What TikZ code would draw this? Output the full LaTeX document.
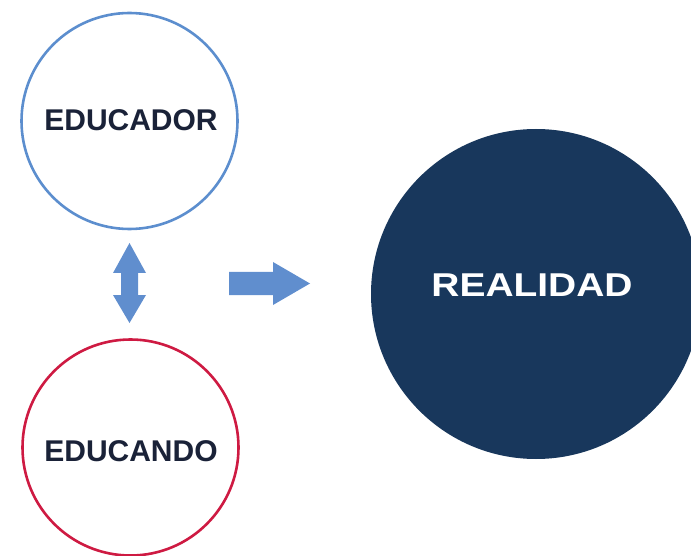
\documentclass[tikz,border=0pt]{standalone}
\usepackage{fontspec}
\setmainfont{Liberation Sans}
\definecolor{ringblue}{RGB}{92,142,206}
\definecolor{ringred}{RGB}{206,26,66}
\definecolor{navy}{RGB}{24,55,92}
\definecolor{inktext}{RGB}{26,34,56}
\definecolor{arrowblue}{RGB}{96,142,206}
\begin{document}
\begin{tikzpicture}[x=1pt,y=-1pt,
  ring/.style={circle,draw,line width=2.6pt,minimum size=216pt,inner sep=0pt},
  word/.style={font=\bfseries\fontsize{30}{30}\selectfont,text=inktext,inner sep=0pt},
  blockarrow/.style={fill=arrowblue,draw=none}]
\useasboundingbox (0,0) rectangle (691,556);
\node[ring,draw=ringblue] (educador) at (129.5,121) {};
\node[ring,draw=ringred] (educando) at (130.5,447.5) {};
\node[circle,fill=navy,minimum size=330pt,inner sep=0pt] (realidad) at (536,294) {};
\node[word] (tEducador) at (131,120) {EDUCADOR};
\node[word] (tEducando) at (131,451) {EDUCANDO};
\node[font=\bfseries\fontsize{33}{33}\selectfont,text=white,inner sep=0pt] (tRealidad) at (532,285.5) {\scalebox{1.18}[1]{REALIDAD}};
% double vertical arrow
\fill[blockarrow] (129.5,243) -- (146,273) -- (138,273) -- (138,295) -- (146,295)
  -- (129.5,323) -- (113,295) -- (121,295) -- (121,273) -- (113,273) -- cycle;
% right arrow
\fill[blockarrow] (229,272) -- (273,272) -- (273,262) -- (310,283.5) -- (273,305)
  -- (273,295) -- (229,295) -- cycle;
\end{tikzpicture}
\end{document}
